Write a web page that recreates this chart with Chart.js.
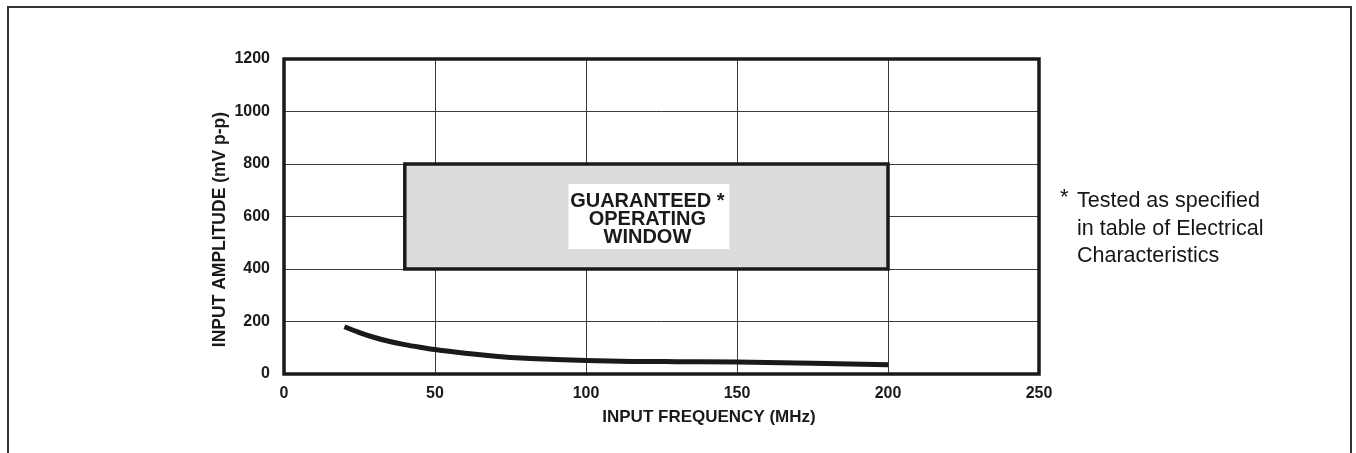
<!DOCTYPE html>
<html><head><meta charset="utf-8">
<script src="https://cdn.jsdelivr.net/npm/chart.js@4.4.0/dist/chart.umd.min.js"></script>
<style>
html,body{margin:0;padding:0;background:#fff;}
#wrap{position:relative;width:1356px;height:453px;overflow:hidden;background:#fff;}
#frame{position:absolute;left:7px;top:6px;width:1345px;height:480px;box-sizing:border-box;border:2px solid #333;border-bottom:none;}
#cv{position:absolute;left:0;top:0;}
.note{position:absolute;left:1077px;top:187px;font-family:"Liberation Sans",Arial,sans-serif;font-size:21.5px;line-height:27.5px;color:#161616;white-space:nowrap;}
.star{position:absolute;left:1060px;top:183px;font-family:"Liberation Sans",Arial,sans-serif;font-size:22px;line-height:27.5px;color:#161616;}
</style></head>
<body>
<div id="wrap">
  <div id="frame"></div>
  <canvas id="cv" width="1356" height="453"></canvas>
  <div class="star">*</div>
  <div class="note">Tested as specified<br>in table of Electrical<br>Characteristics</div>
</div>
<script>
const freqMHz     = [20, 25, 30, 35, 40, 45, 50, 60, 70, 80, 90, 100, 115, 130, 150, 175, 200];
const amplitudeMv = [180, 158, 139, 124, 112, 102, 93, 79, 68, 60, 55, 51, 48, 47, 46, 41, 35];
const xTicks = [0, 50, 100, 150, 200, 250];
const yTicks = [0, 200, 400, 600, 800, 1000, 1200];
const windowFreq = [40, 200];
const windowAmp = [400, 800];
const windowLabel = ['GUARANTEED *', 'OPERATING', 'WINDOW'];
const xTitle = 'INPUT FREQUENCY (MHz)';
const yTitle = 'INPUT AMPLITUDE (mV p-p)';

const FONT = '"Liberation Sans", Arial, sans-serif';
const INK = '#1a1a1a';

const deco = {
  id: 'deco',
  beforeDatasetsDraw(chart) {
    const {ctx, scales: {x, y}} = chart;
    const l = x.getPixelForValue(windowFreq[0]), r = x.getPixelForValue(windowFreq[1]);
    const t = y.getPixelForValue(windowAmp[1]), b = y.getPixelForValue(windowAmp[0]);
    ctx.save();
    ctx.fillStyle = '#dcdcdc';
    ctx.fillRect(l, t, r - l, b - t);
    ctx.lineWidth = 3.5;
    ctx.strokeStyle = INK;
    ctx.strokeRect(l, t, r - l, b - t);
    const cx = (l + r) / 2, cy = (t + b) / 2;
    ctx.fillStyle = '#fff';
    ctx.fillRect(cx - 78, cy - 32.5, 161, 65);
    ctx.fillStyle = INK;
    ctx.font = 'bold 20px ' + FONT;
    ctx.textAlign = 'center';
    ctx.textBaseline = 'middle';
    const offs = [-15.5, 3, 20.5];
    windowLabel.forEach((s, i) => ctx.fillText(s, cx + 1, cy + offs[i]));
    ctx.restore();
  },
  afterDatasetsDraw(chart) {
    const {ctx, chartArea: a} = chart;
    ctx.save();
    ctx.lineWidth = 3.5;
    ctx.strokeStyle = INK;
    ctx.strokeRect(a.left, a.top, a.right - a.left, a.bottom - a.top);
    ctx.restore();
  },
  afterDraw(chart) {
    const {ctx, chartArea: a} = chart;
    ctx.save();
    ctx.fillStyle = INK;
    ctx.textAlign = 'center';
    ctx.textBaseline = 'middle';
    ctx.font = 'bold 17px ' + FONT;
    ctx.fillText(xTitle, a.left + 425, a.bottom + 43);
    ctx.font = 'bold 17.5px ' + FONT;
    ctx.translate(a.left - 64, (a.top + a.bottom) / 2 + 13);
    ctx.rotate(-Math.PI / 2);
    ctx.fillText(yTitle, 0, 0);
    ctx.restore();
  }
};

new Chart(document.getElementById('cv'), {
  type: 'line',
  data: {
    datasets: [{
      data: freqMHz.map((f, i) => ({x: f, y: amplitudeMv[i]})),
      borderColor: INK,
      borderWidth: 5,
      borderCapStyle: 'butt',
      pointRadius: 0,
      cubicInterpolationMode: 'monotone',
      fill: false
    }]
  },
  options: {
    responsive: false,
    animation: false,
    events: [],
    layout: {padding: {left: 0, top: 59, right: 317, bottom: 0}},
    plugins: {legend: {display: false}, tooltip: {enabled: false}, title: {display: false}},
    scales: {
      x: {
        type: 'linear', min: 0, max: 250,
        afterBuildTicks: s => { s.ticks = xTicks.map(v => ({value: v})); },
        afterFit: s => { s.height = 79; },
        grid: {color: '#3a3a3a', lineWidth: 1, drawTicks: false},
        border: {display: false},
        ticks: {color: INK, font: {family: FONT, size: 16, weight: 'bold'}, padding: 10, maxRotation: 0, autoSkip: false,
                callback: v => String(v)}
      },
      y: {
        type: 'linear', min: 0, max: 1200,
        afterBuildTicks: s => { s.ticks = yTicks.map(v => ({value: v})); },
        afterFit: s => { s.width = 284; },
        grid: {color: '#3a3a3a', lineWidth: 1, drawTicks: false},
        border: {display: false},
        ticks: {color: INK, font: {family: FONT, size: 16, weight: 'bold'}, padding: 14, autoSkip: false,
                callback: v => String(v)}
      }
    }
  },
  plugins: [deco]
});
</script>
</body></html>
